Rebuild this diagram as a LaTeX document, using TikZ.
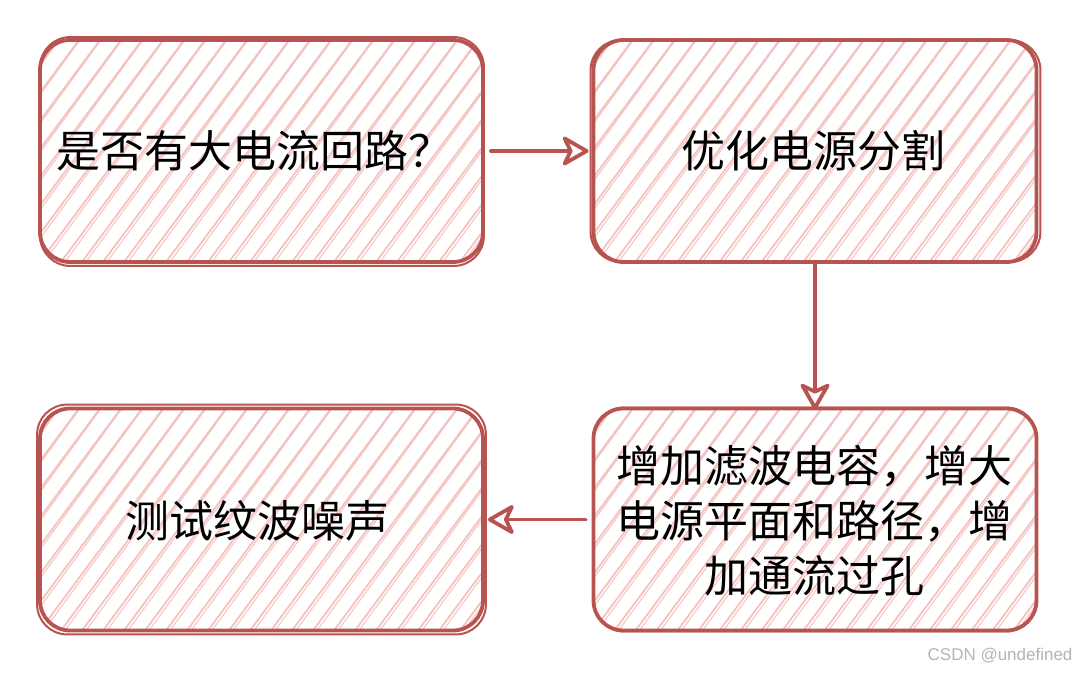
\documentclass[tikz,border=0pt]{standalone}
\usepackage{fontspec}
\setmainfont{Noto Sans CJK SC}
\newfontfamily\wmfont{Liberation Sans}
\usetikzlibrary{arrows.meta,calc}
\definecolor{strokered}{HTML}{B85450}
\definecolor{hatchpink}{HTML}{F4C2C0}
\definecolor{wmgray}{HTML}{B4B4B4}
\tikzset{
  hatch/.style={draw=hatchpink, line width=1.8pt, line cap=round},
  sketchbox/.style={draw=strokered, line width=3.8pt, rounded corners=30pt,
    minimum width=443pt, minimum height=222pt, inner sep=0pt,
    path picture={
      \foreach \i in {-10,...,32}{
        \draw[hatch] ($(path picture bounding box.south west)+(\i*21,0)$) -- ++(165,-222);
        \draw[hatch, line width=1pt] ($(path picture bounding box.south west)+(\i*21+4,0)$) -- ++(162,-222);
      }
    }},
  outline2/.style={draw=strokered, line width=2pt, rounded corners=30pt},
  label/.style={font=\fontsize{44pt}{55pt}\selectfont, align=center, text=black},
  conn/.style={draw=strokered, line width=3.8pt, line cap=round,
    -{Stealth[open, length=30pt, width=34pt, inset=8pt, round]}},
}
\begin{document}
\begin{tikzpicture}[x=1pt, y=-1pt]
\useasboundingbox (0,0) rectangle (1080,673);
\node[sketchbox] (b1) at (261.5,151) {};
\node[sketchbox] (b2) at (815,151) {};
\node[sketchbox] (b3) at (815,519.5) {};
\node[sketchbox] (b4) at (261.5,519.5) {};
\draw[outline2] ([shift={(2,-1)}]b1.north west) rectangle ([shift={(-1,2)}]b1.south east);
\draw[outline2] ([shift={(-1,2)}]b2.north west) rectangle ([shift={(2,-2)}]b2.south east);
\draw[outline2] ([shift={(2,1)}]b3.north west) rectangle ([shift={(-2,-1)}]b3.south east);
\draw[outline2] ([shift={(-1,-2)}]b4.north west) rectangle ([shift={(1,2)}]b4.south east);
\node[label] (t1) at (254.5,151) {是否有大电流回路？};
\node[label] (t2) at (813,151) {优化电源分割};
\node[label] (t3) at (814,521) {增加滤波电容，增大\\电源平面和路径，增\\加通流过孔};
\node[label] (t4) at (257,521) {测试纹波噪声};
\draw[conn] ([xshift=6pt]b1.east) -- ([xshift=-3pt]b2.west);
\draw[conn] ([yshift=2pt]b2.south) -- ([yshift=-3pt]b3.north);
\draw[conn] ([xshift=-6pt]b3.west) -- ([xshift=3pt]b4.east);
\node[anchor=east, font=\wmfont\fontsize{17pt}{20pt}\selectfont, text=wmgray] (wm) at (1076,656) {CSDN @undefined};
\end{tikzpicture}
\end{document}
